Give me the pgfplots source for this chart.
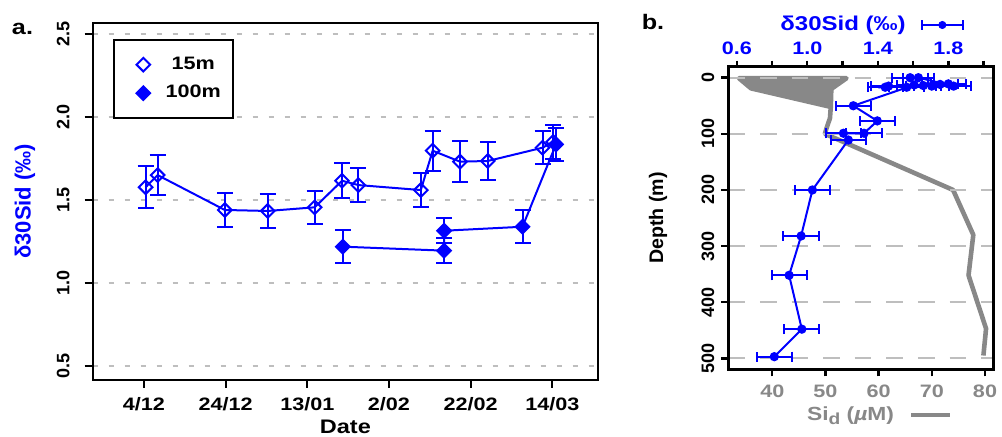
\documentclass[border=0pt]{standalone}
\usepackage{fontspec}
\setmainfont{Liberation Sans}[FakeStretch=1.2]
\newfontfamily\rotfont{Liberation Sans}
\usepackage{pgfplots}
\pgfplotsset{compat=1.18}
\definecolor{siGray}{RGB}{136,136,136}
\definecolor{gridGray}{RGB}{190,190,190}
\pgfplotsset{/pgf/number format/assume math mode=true}

\begin{document}
\begin{tikzpicture}[font=\fontsize{9}{11}\selectfont\bfseries]
\useasboundingbox (0,0) rectangle (501pt,218.5pt);

% ---- panel a: time series
\begin{axis}[
  at={(46.35pt,28.5pt)}, anchor=south west,
  scale only axis, width=252.65pt, height=178.65pt,
  xmin=-12.56, xmax=111.19, ymin=0.416, ymax=2.568,
  xtick={0,20,40,60,80,100},
  xticklabels={4/12,24/12,13/01,2/02,22/02,14/03},
  ytick={0.5,1,1.5,2,2.5},
  yticklabel style={rotate=90, anchor=south, font=\fontsize{9}{11}\rotfont\bfseries,
    /pgf/number format/.cd, fixed, fixed zerofill, precision=1},
  yticklabel shift=4pt, xticklabel shift=1pt,
  tick pos=left, tick align=outside, major tick length=4pt,
  major tick style={line width=1pt, black},
  axis line style={line width=1pt},
  ymajorgrids, grid style={gridGray, line width=0.8pt, dash pattern=on 2.5pt off 5.5pt},
  xlabel={Date},
  xlabel style={at={(axis description cs:0.5,-0.1307)}, anchor=center,
    font=\fontsize{9.8}{12}\selectfont\bfseries},
  ylabel={δ30Sid (‰)},
  ylabel style={at={(axis description cs:-0.134,0.5)}, anchor=center, text=blue,
    font=\fontsize{11}{13}\rotfont\bfseries},
  legend image code/.code={
    \path[draw=none, fill=none] (0pt,-1pt) rectangle (21.6pt,1pt);
    \draw[#1] plot coordinates {(10.8pt,0pt)};},
  legend style={at={(axis description cs:0.0396,0.9544)}, anchor=north west,
    draw=black, line width=1pt, inner xsep=4pt, inner ysep=6.5pt,
    row sep=2.5pt, column sep=-1.7pt},
  legend cell align=center,
]
\addlegendimage{only marks, blue, mark=square, mark size=2.4pt, mark options={rotate=45, line width=1pt}}
\addlegendentry{15m}
\addlegendimage{only marks, blue, mark=square*, mark size=2.4pt, mark options={rotate=45, line width=1pt}}
\addlegendentry{100m}

% 15 m
\addplot[forget plot, blue, line width=1pt, mark=square, mark size=2.4pt,
  mark options={rotate=45, solid},
  error bars/.cd, y dir=both, y explicit,
  error bar style={line width=1pt},
  error mark options={blue, mark size=4pt, line width=1pt, rotate=90}]
coordinates {
  (0.4,1.577) +- (0,0.125)
  (3.35,1.65) +- (0,0.12)
  (19.8,1.44) +- (0,0.10)
  (30.3,1.434) +- (0,0.10)
  (41.8,1.456) +- (0,0.10)
  (48.5,1.616) +- (0,0.105)
  (52.5,1.59) +- (0,0.10)
  (67.8,1.56) +- (0,0.10)
  (70.7,1.797) +- (0,0.12)
  (77.4,1.731) +- (0,0.125)
  (84.2,1.735) +- (0,0.117)
  (97.6,1.815) +- (0,0.10)
  (100.2,1.85) +- (0,0.10)
};
% 100 m
\addplot[forget plot, blue, line width=1pt, mark=square*, mark size=2.4pt,
  mark options={rotate=45, solid},
  error bars/.cd, y dir=both, y explicit,
  error bar style={line width=1pt},
  error mark options={blue, mark size=4pt, line width=1pt, rotate=90}]
coordinates {
  (48.7,1.219) +- (0,0.10)
  (73.5,1.195) +- (0,0.075)
  (73.5,1.315) +- (0,0.075)
  (92.7,1.339) +- (0,0.10)
  (100.9,1.835) +- (0,0.10)
};
\end{axis}

% ---- panel b: Si_d profile (bottom axis)
\begin{axis}[
  at={(364.15pt,33.85pt)}, anchor=south west,
  scale only axis, width=132.5pt, height=151.3pt,
  xmin=31.73, xmax=81.56, ymin=-19.6, ymax=519.5, y dir=reverse,
  xtick={40,50,60,70,80}, ytick={0,100,200,300,400,500},
  tick pos=left, tick align=outside, major tick length=3.5pt,
  major tick style={line width=1.2pt, black},
  axis line style={line width=1.3pt},
  xticklabel style={text=siGray}, xticklabel shift=1pt,
  yticklabel style={rotate=90, anchor=south, font=\fontsize{9}{11}\rotfont\bfseries},
  ymajorgrids, grid style={gridGray, line width=1.1pt, dash pattern=on 8.3pt off 7.5pt},
  axis on top,
  ylabel={Depth (m)},
  ylabel style={at={(axis description cs:-0.2653,0.5)}, anchor=center,
    font=\fontsize{9.8}{12}\rotfont\bfseries},
  legend plot pos=right,
  legend image code/.code={\draw[#1] (0pt,0pt) -- (19.5pt,0pt);},
  legend style={at={(axis description cs:0.2958,-0.151)}, anchor=west,
    draw=none, fill=none, inner sep=0pt, column sep=7.5pt,
    nodes={inner sep=0pt, text=siGray}},
]
\addlegendimage{siGray, line width=2.3pt}
\addlegendentry{\fontsize{9.5}{11}\selectfont Si\raisebox{-2pt}{\fontsize{8}{9}\selectfont d} (\textit{µ}M)}
% many surface samples drawn as one shaded wedge
\addplot[forget plot, fill=siGray, draw=siGray, line width=2.3pt, line join=round]
coordinates {(33.74,1) (53.95,1) (51.1,20) (51.0,52) (36.0,19)} -- cycle;
\addplot[forget plot, siGray, line width=2.3pt, line join=round]
coordinates {(51.0,52) (50.85,72) (50.2,90) (49.9,100) (74.0,200) (77.8,280) (76.9,352) (80.2,447) (79.7,495)};
\end{axis}

% ---- panel b: delta30Si profile (top axis)
\begin{axis}[
  at={(364.15pt,33.85pt)}, anchor=south west,
  scale only axis, width=132.5pt, height=151.3pt,
  xmin=0.552, xmax=2.055, ymin=-19.6, ymax=519.5, y dir=reverse,
  xtick={0.6,0.8,1.0,1.2,1.4,1.6,1.8,2.0},
  xticklabels={0.6,,1.0,,1.4,,1.8,},
  xtick pos=right, xticklabel pos=right, ytick=\empty,
  tick align=outside, major tick length=3pt,
  major tick style={line width=1.2pt, black},
  axis line style={line width=1.3pt},
  xticklabel style={text=blue}, xticklabel shift=-0.3pt,
  legend plot pos=right,
  legend image code/.code={
    \draw[blue, line width=1pt] (0pt,0pt) -- (20.85pt,0pt);
    \draw[blue, line width=1pt] (0pt,-2.5pt) -- (0pt,2.5pt) (20.85pt,-2.5pt) -- (20.85pt,2.5pt);
    \fill[blue] (10.35pt,0pt) circle[radius=1.8pt];},
  legend style={at={(axis description cs:0.1951,1.1378)}, anchor=west,
    draw=none, fill=none, inner sep=0pt, column sep=7.5pt,
    nodes={inner sep=0pt, text=blue}},
]
\addlegendimage{blue}
\addlegendentry{\fontsize{10}{12}\selectfont δ30Sid (‰)}
\addplot[forget plot, blue, line width=1pt, mark=*, mark size=1.8pt,
  error bars/.cd, x dir=both, x explicit,
  error bar style={line width=1pt},
  error mark options={blue, mark size=2.5pt, line width=1pt, rotate=90}]
coordinates {
  (1.583,0) +- (0.1,0)
  (1.630,0) +- (0.09,0)
  (1.83,15) +- (0.1,0)
  (1.80,11) +- (0.1,0)
  (1.753,12) +- (0.1,0)
  (1.706,15) +- (0.1,0)
  (1.658,14) +- (0.1,0)
  (1.442,17) +- (0.1,0)
  (1.461,15) +- (0.1,0)
  (1.564,17) +- (0.1,0)
  (1.606,13) +- (0.1,0)
  (1.261,50) +- (0.1,0)
  (1.397,77) +- (0.1,0)
  (1.322,99) +- (0.1,0)
  (1.205,99) +- (0.1,0)
  (1.233,111) +- (0.1,0)
  (1.029,200) +- (0.1,0)
  (0.965,282) +- (0.1,0)
  (0.897,352) +- (0.1,0)
  (0.969,448) +- (0.1,0)
  (0.813,497) +- (0.1,0)
};
\end{axis}

\node[font=\fontsize{10.5}{12}\selectfont\bfseries] at (11.25pt,204pt) {a.};
\node[font=\fontsize{10.5}{12}\selectfont\bfseries] at (326.5pt,207.25pt) {b.};
\end{tikzpicture}
\end{document}
